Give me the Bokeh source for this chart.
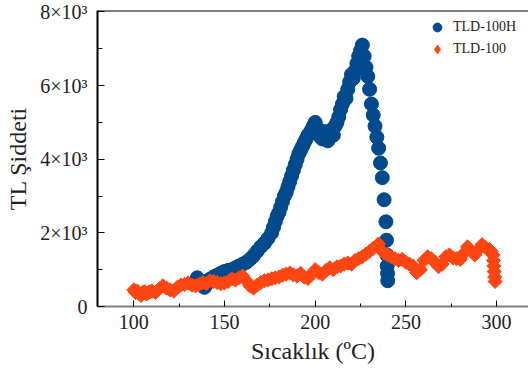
from bokeh.plotting import figure
from bokeh.models import Legend, LegendItem, FixedTicker, Span, Range1d
from bokeh.embed import file_html
from bokeh.resources import INLINE
import math

# TLD-100H (blue circles)
h_temp = [135, 136, 137, 138, 139, 140, 141, 142, 143, 144, 145, 146, 147, 148, 149, 150,
          152, 154, 156, 158, 160, 162, 164, 166, 168, 170, 172, 174, 176, 177, 178, 179,
          180, 181, 182, 183, 184, 185, 186, 187, 188, 189, 190, 191, 192, 193, 194, 195,
          196, 197, 198, 199, 200, 201, 202, 203, 204, 205, 206, 207, 208, 209, 210, 211,
          212, 213, 214, 215, 216, 217, 218, 219, 220, 221, 222, 223, 224, 225, 226, 227,
          228, 229, 230, 231, 232, 233, 234, 235, 236, 237, 238, 239, 239.3, 239.5, 239.7,
          239.9, 240]
h_val = [780, 700, 620, 560, 520, 600, 700, 740, 760, 800, 820, 850, 870, 900, 920, 950,
         980, 1000, 1050, 1100, 1150, 1200, 1280, 1380, 1500, 1620, 1720, 1850, 2000, 2150, 2300, 2450,
         2550, 2700, 2850, 3000, 3100, 3250, 3400, 3550, 3700, 3850, 4000, 4150, 4250, 4350, 4450, 4550,
         4650, 4700, 4800, 4900, 5000, 4850, 4700, 4600, 4550, 4750, 4650, 4500, 4700, 4800, 4650, 4900,
         5000, 5150, 5350, 5500, 5700, 5650, 5900, 6100, 6300, 6200, 6400, 6600, 6800, 6950, 7100, 6800,
         6500, 6250, 5900, 5500, 5200, 4900, 4600, 4300, 3900, 3500, 2900, 2300, 1800, 1400, 1100,
         900, 700]

# TLD-100 (orange diamonds)
t_temp = [100, 101, 102, 103, 104, 105, 106, 107, 108, 109, 110, 112, 114, 116, 118, 120,
          122, 124, 126, 128, 130, 132, 134, 136, 138, 140, 142, 144, 146, 148, 150, 152,
          154, 156, 158, 160, 162, 164, 166, 168, 170, 172, 174, 176, 178, 180, 182, 184,
          186, 188, 190, 192, 194, 196, 198, 200, 202, 204, 206, 208, 210, 212, 214, 216,
          218, 220, 222, 224, 226, 228, 230, 232, 234, 235, 236, 238, 240, 242, 244, 246,
          248, 250, 252, 254, 256, 258, 260, 262, 264, 266, 268, 270, 272, 274, 276, 278,
          280, 282, 284, 286, 288, 290, 292, 294, 296, 297, 298, 298.3, 298.5, 298.7, 299, 299.2]
t_val = [450, 380, 420, 350, 300, 380, 400, 340, 380, 400, 420, 380, 480, 560, 500, 450,
         420, 520, 580, 600, 640, 580, 560, 600, 650, 620, 700, 680, 650, 620, 640, 680,
         750, 720, 780, 830, 700, 560, 500, 580, 650, 700, 720, 750, 780, 800, 850, 880,
         910, 860, 830, 900, 800, 760, 880, 1000, 920, 880, 980, 1050, 1000, 1080, 1100, 1150,
         1180, 1150, 1250, 1300, 1350, 1420, 1500, 1580, 1650, 1700, 1550, 1450, 1400, 1350, 1300, 1250,
         1280, 1200, 1150, 1100, 920, 1000, 1250, 1350, 1300, 1200, 1080, 1150, 1350, 1400, 1320, 1300,
         1280, 1450, 1620, 1500, 1400, 1550, 1680, 1600, 1550, 1500, 1400, 1250, 1100, 950, 800, 680]

x_ticks = [100, 150, 200, 250, 300]
x_minor = [125, 175, 225, 275]
y_ticks = [0, 2000, 4000, 6000, 8000]
y_minor = [1000, 3000, 5000, 7000]
y_labels = ["0", "2×10³", "4×10³", "6×10³", "8×10³"]
series_names = ["TLD-100H", "TLD-100"]

BLUE = "#004A8D"
ORANGE = "#FF4612"
FONT = "Liberation Serif"

p = figure(width=528, height=371, output_backend="svg", toolbar_location=None,
           x_range=Range1d(80, 317.6), y_range=Range1d(0, 8040),
           min_border_left=97, min_border_right=0, min_border_top=10, min_border_bottom=65)
p.grid.visible = False
p.outline_line_color = None
p.background_fill_color = "white"
p.border_fill_color = "white"

p.scatter(h_temp, h_val, marker="circle", size=14, fill_color=BLUE, line_color=BLUE)
p.scatter(t_temp, t_val, marker="square", angle=math.pi / 4, size=10,
          fill_color=ORANGE, line_color=ORANGE)

# legend-only glyphs (a single point placed outside the visible ranges)
lg_h = p.scatter([-1000], [-100000], marker="circle", size=14, fill_color=BLUE, line_color=BLUE)
lg_t = p.scatter([-1000], [-100000], marker="diamond", size=15, fill_color=ORANGE, line_color=ORANGE)

# axes
xa = p.xaxis[0]
xa.ticker = FixedTicker(ticks=x_ticks, minor_ticks=x_minor)
xa.axis_line_color = "#808080"
xa.axis_line_width = 2
xa.major_tick_in = 6
xa.major_tick_out = 0
xa.minor_tick_in = 3
xa.minor_tick_out = 0
xa.major_tick_line_color = "black"
xa.minor_tick_line_color = "black"
xa.major_label_text_font = FONT
xa.major_label_text_font_size = "20px"
xa.major_label_text_color = "#222222"
xa.major_label_standoff = 8
xa.axis_label = "Sıcaklık (ºC)"
xa.axis_label_text_font = FONT
xa.axis_label_text_font_size = "24px"
xa.axis_label_text_font_style = "normal"
xa.axis_label_text_color = "#222222"
xa.axis_label_standoff = 6

ya = p.yaxis[0]
ya.ticker = FixedTicker(ticks=y_ticks, minor_ticks=y_minor)
ya.major_label_overrides = {t: l for t, l in zip(y_ticks, y_labels)}
ya.axis_line_color = "black"
ya.axis_line_width = 2
ya.major_tick_in = 7
ya.major_tick_out = 0
ya.minor_tick_in = 5
ya.minor_tick_out = 0
ya.major_tick_line_color = "black"
ya.minor_tick_line_color = "black"
ya.major_label_text_font = FONT
ya.major_label_text_font_size = "20px"
ya.major_label_text_color = "#222222"
ya.major_label_standoff = 10
ya.axis_label = "TL Şiddeti"
ya.axis_label_text_font = FONT
ya.axis_label_text_font_size = "24px"
ya.axis_label_text_font_style = "normal"
ya.axis_label_text_color = "#222222"
ya.axis_label_standoff = 6

p.add_layout(Span(location=8040, dimension="width", line_color="black", line_width=2))

legend = Legend(items=[LegendItem(label=series_names[0], renderers=[lg_h]),
                       LegendItem(label=series_names[1], renderers=[lg_t])],
                location=(329, 246))
legend.border_line_color = None
legend.background_fill_alpha = 0
legend.label_text_font = FONT
legend.label_text_font_size = "14px"
legend.label_text_color = "#222222"
legend.glyph_width = 22
legend.glyph_height = 22
legend.label_height = 17
legend.label_standoff = 5
legend.spacing = -5
legend.padding = 5
legend.margin = 0
p.add_layout(legend)

open("out.html", "w").write(file_html(p, INLINE))
